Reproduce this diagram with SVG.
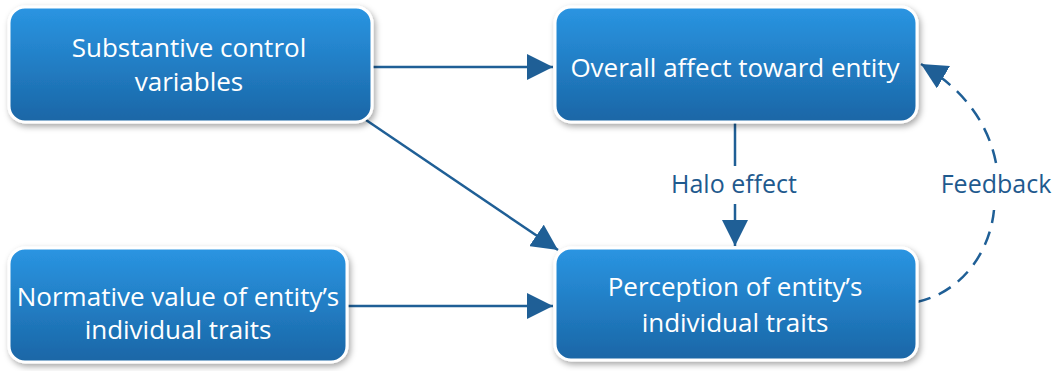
<svg xmlns="http://www.w3.org/2000/svg" width="1056" height="371" viewBox="0 0 1056 371">
<defs>
<linearGradient id="g" x1="0" y1="0" x2="0" y2="1">
<stop offset="0" stop-color="#2a95e2"/>
<stop offset="1" stop-color="#1a66a6"/>
</linearGradient>
<filter id="sh" x="-10%" y="-10%" width="120%" height="130%">
<feDropShadow dx="2" dy="3" stdDeviation="3" flood-color="#000" flood-opacity="0.35"/>
</filter>
<marker id="ah" viewBox="0 0 10 10" refX="10" refY="5" markerWidth="26" markerHeight="26" markerUnits="userSpaceOnUse" orient="auto">
<path d="M0,0 L10,5 L0,10 z" fill="#1f5f96"/>
</marker>
</defs>
<style>
.box{fill:url(#g);stroke:#fff;stroke-width:3;filter:url(#sh)}
.t{fill:#fff;font-family:"Open Sans","Liberation Sans",sans-serif;font-size:26px;text-anchor:middle}
.l{fill:#1f5a8e;font-family:"Open Sans","Liberation Sans",sans-serif;font-size:25px;text-anchor:middle}
.c{stroke:#1f5f96;stroke-width:2.5;fill:none}
</style>
<rect width="1056" height="371" fill="#fff"/>
<g id="connectors">
<line class="c" x1="372" y1="67" x2="553" y2="67" marker-end="url(#ah)"/>
<line class="c" x1="366" y1="120" x2="558" y2="250" marker-end="url(#ah)"/>
<line class="c" x1="347" y1="306" x2="553" y2="306" marker-end="url(#ah)"/>
<line class="c" x1="735" y1="123" x2="735" y2="166"/>
<line class="c" x1="735" y1="204" x2="735" y2="246" marker-end="url(#ah)"/>
<path class="c" d="M996,163 C988,122 962,88 921,64" stroke-dasharray="14,9" marker-end="url(#ah)"/>
<path class="c" d="M917,302 C962,292 990,252 994,210" stroke-dasharray="14,9"/>
<text class="l" x="734" y="193">Halo effect</text>
<text class="l" x="996" y="193">Feedback</text>
</g>
<g id="n1">
<rect class="box" x="9" y="7" width="363" height="115" rx="16"/>
<text class="t" x="189" y="57">Substantive control</text>
<text class="t" x="189" y="91">variables</text>
</g>
<g id="n2">
<rect class="box" x="555" y="7" width="362" height="115" rx="16"/>
<text class="t" x="735" y="77">Overall affect toward entity</text>
</g>
<g id="n3">
<rect class="box" x="9" y="248" width="338" height="114" rx="16"/>
<text class="t" x="178" y="306">Normative value of entity’s</text>
<text class="t" x="178" y="339">individual traits</text>
</g>
<g id="n4">
<rect class="box" x="555" y="248" width="362" height="112" rx="16"/>
<text class="t" x="735" y="296">Perception of entity’s</text>
<text class="t" x="735" y="332">individual traits</text>
</g>
</svg>
